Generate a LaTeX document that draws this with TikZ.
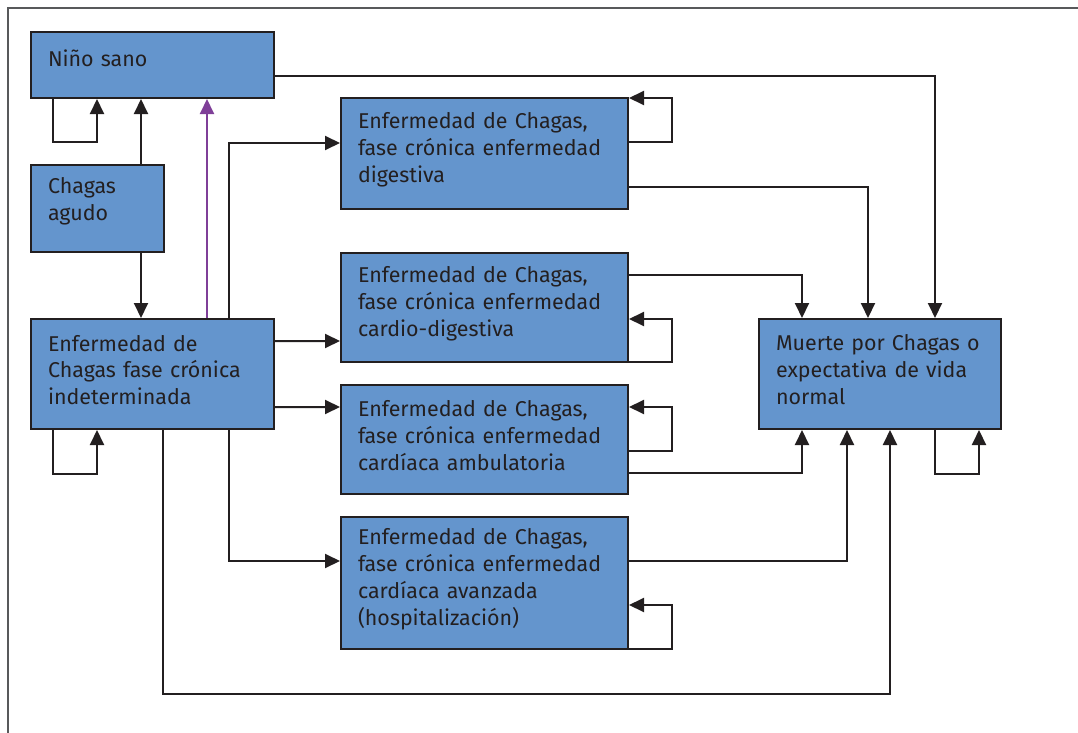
\documentclass[tikz,border=0pt]{standalone}
\usepackage{fontspec}
\setmainfont{Fira Sans}
\usepackage{tikz}
\usetikzlibrary{arrows.meta}
\definecolor{boxblue}{HTML}{6495CD}
\definecolor{ink}{HTML}{231F20}
\definecolor{purp}{HTML}{7F3F98}
\definecolor{framegray}{HTML}{58595B}
\newcommand{\boxpad}{\endgraf\kern8bp}
\begin{document}
\begin{tikzpicture}[
  x=1bp,y=-1bp,
  box/.style={draw=ink,line width=2bp,fill=boxblue,align=left,anchor=north west,
    inner xsep=17bp,inner ysep=0pt,font=\fontsize{21.5}{27}\selectfont,text=ink,
    execute at end node=\boxpad},
  narrow/.style={box,text width=209bp},
  wide/.style={box,text width=253bp},
  arr/.style={-{Triangle[length=15bp,width=14bp]},line width=2bp,draw=ink}]
\useasboundingbox (0,0) rectangle (1078,733);
\draw[framegray,line width=2bp] (1078,8) -- (8,8) -- (8,733);
% left column
\node[narrow,minimum height=66bp,execute at end node={\endgraf\kern6bp}] (nino) at (30,31) {Niño sano};
\node[box,text width=99bp,minimum height=87bp,execute at end node={\endgraf\kern6bp}] (agudo) at (30,164) {Chagas\\agudo};
\node[narrow,minimum height=110bp] (ind) at (30,318) {Enfermedad de\\Chagas fase crónica\\indeterminada};
% middle column
\node[wide,minimum height=111bp] (dig) at (340,97) {Enfermedad de Chagas,\\fase crónica enfermedad\\digestiva};
\node[wide,minimum height=109bp] (cardig) at (340,252) {Enfermedad de Chagas,\\fase crónica enfermedad\\cardio-digestiva};
\node[wide,minimum height=109bp] (amb) at (340,384) {Enfermedad de Chagas,\\fase crónica enfermedad\\cardíaca ambulatoria};
\node[wide,minimum height=132bp] (avz) at (340,516) {Enfermedad de Chagas,\\fase crónica enfermedad\\cardíaca avanzada\\(hospitalización)};
% right column
\node[box,text width=208bp,minimum height=110bp] (muerte) at (758,318) {Muerte por Chagas o\\expectativa de vida\\normal};
% self loops
\draw[arr] ([xshift=23bp]nino.south west) -- ++(0,43) -| ([xshift=67bp]nino.south west);
\draw[arr] ([xshift=23bp]ind.south west) -- ++(0,44) -| ([xshift=67bp]ind.south west);
\draw[arr] ([yshift=11.5bp]dig.east) -- ++(43,0) |- ([yshift=-1bp]dig.north east);
\draw[arr] ([yshift=1bp]cardig.south east) -- ++(43,0) |- ([yshift=-11.5bp]cardig.east);
\draw[arr] ([yshift=-11.5bp]amb.east) -- ++(43,0) |- ([yshift=32.5bp]amb.east);
\draw[arr] ([yshift=1bp]avz.south east) -- ++(43,0) |- ([yshift=-22bp]avz.east);
\draw[arr] ([xshift=177bp]muerte.south west) -- ++(0,44) -| ([xshift=221bp]muerte.south west);
% transitions
\draw[arr] ([xshift=111bp]agudo.north west) -- ([xshift=111bp]nino.south west);
\draw[arr] ([xshift=111bp]agudo.south west) -- ([xshift=111bp]ind.north west);
\draw[arr,color=purp] ([xshift=177bp]ind.north west) -- ([xshift=177bp]nino.south west);
\draw[arr] ([xshift=199bp]ind.north west) |- ([yshift=10.5bp]dig.west);
\draw[arr] ([yshift=33bp]ind.east) -- ([yshift=-33.5bp]cardig.west);
\draw[arr] ([yshift=-33bp]ind.east) -- ([yshift=32.5bp]amb.west);
\draw[arr] ([xshift=199bp]ind.south west) |- ([yshift=22bp]avz.west);
% towards death
\draw[arr] ([yshift=-11bp]nino.east) -| ([xshift=177bp]muerte.north west);
\draw[arr] ([yshift=-33.5bp]dig.east) -| ([xshift=110bp]muerte.north west);
\draw[arr] ([yshift=32.5bp]cardig.east) -| ([xshift=44bp]muerte.north west);
\draw[arr] ([yshift=-33.5bp]amb.east) -| ([xshift=44bp]muerte.south west);
\draw[arr] ([yshift=22bp]avz.east) -| ([xshift=89bp]muerte.south west);
\draw[arr] ([xshift=133bp]ind.south west) -- ++(0,264) -| ([xshift=132bp]muerte.south west);
\end{tikzpicture}
\end{document}
